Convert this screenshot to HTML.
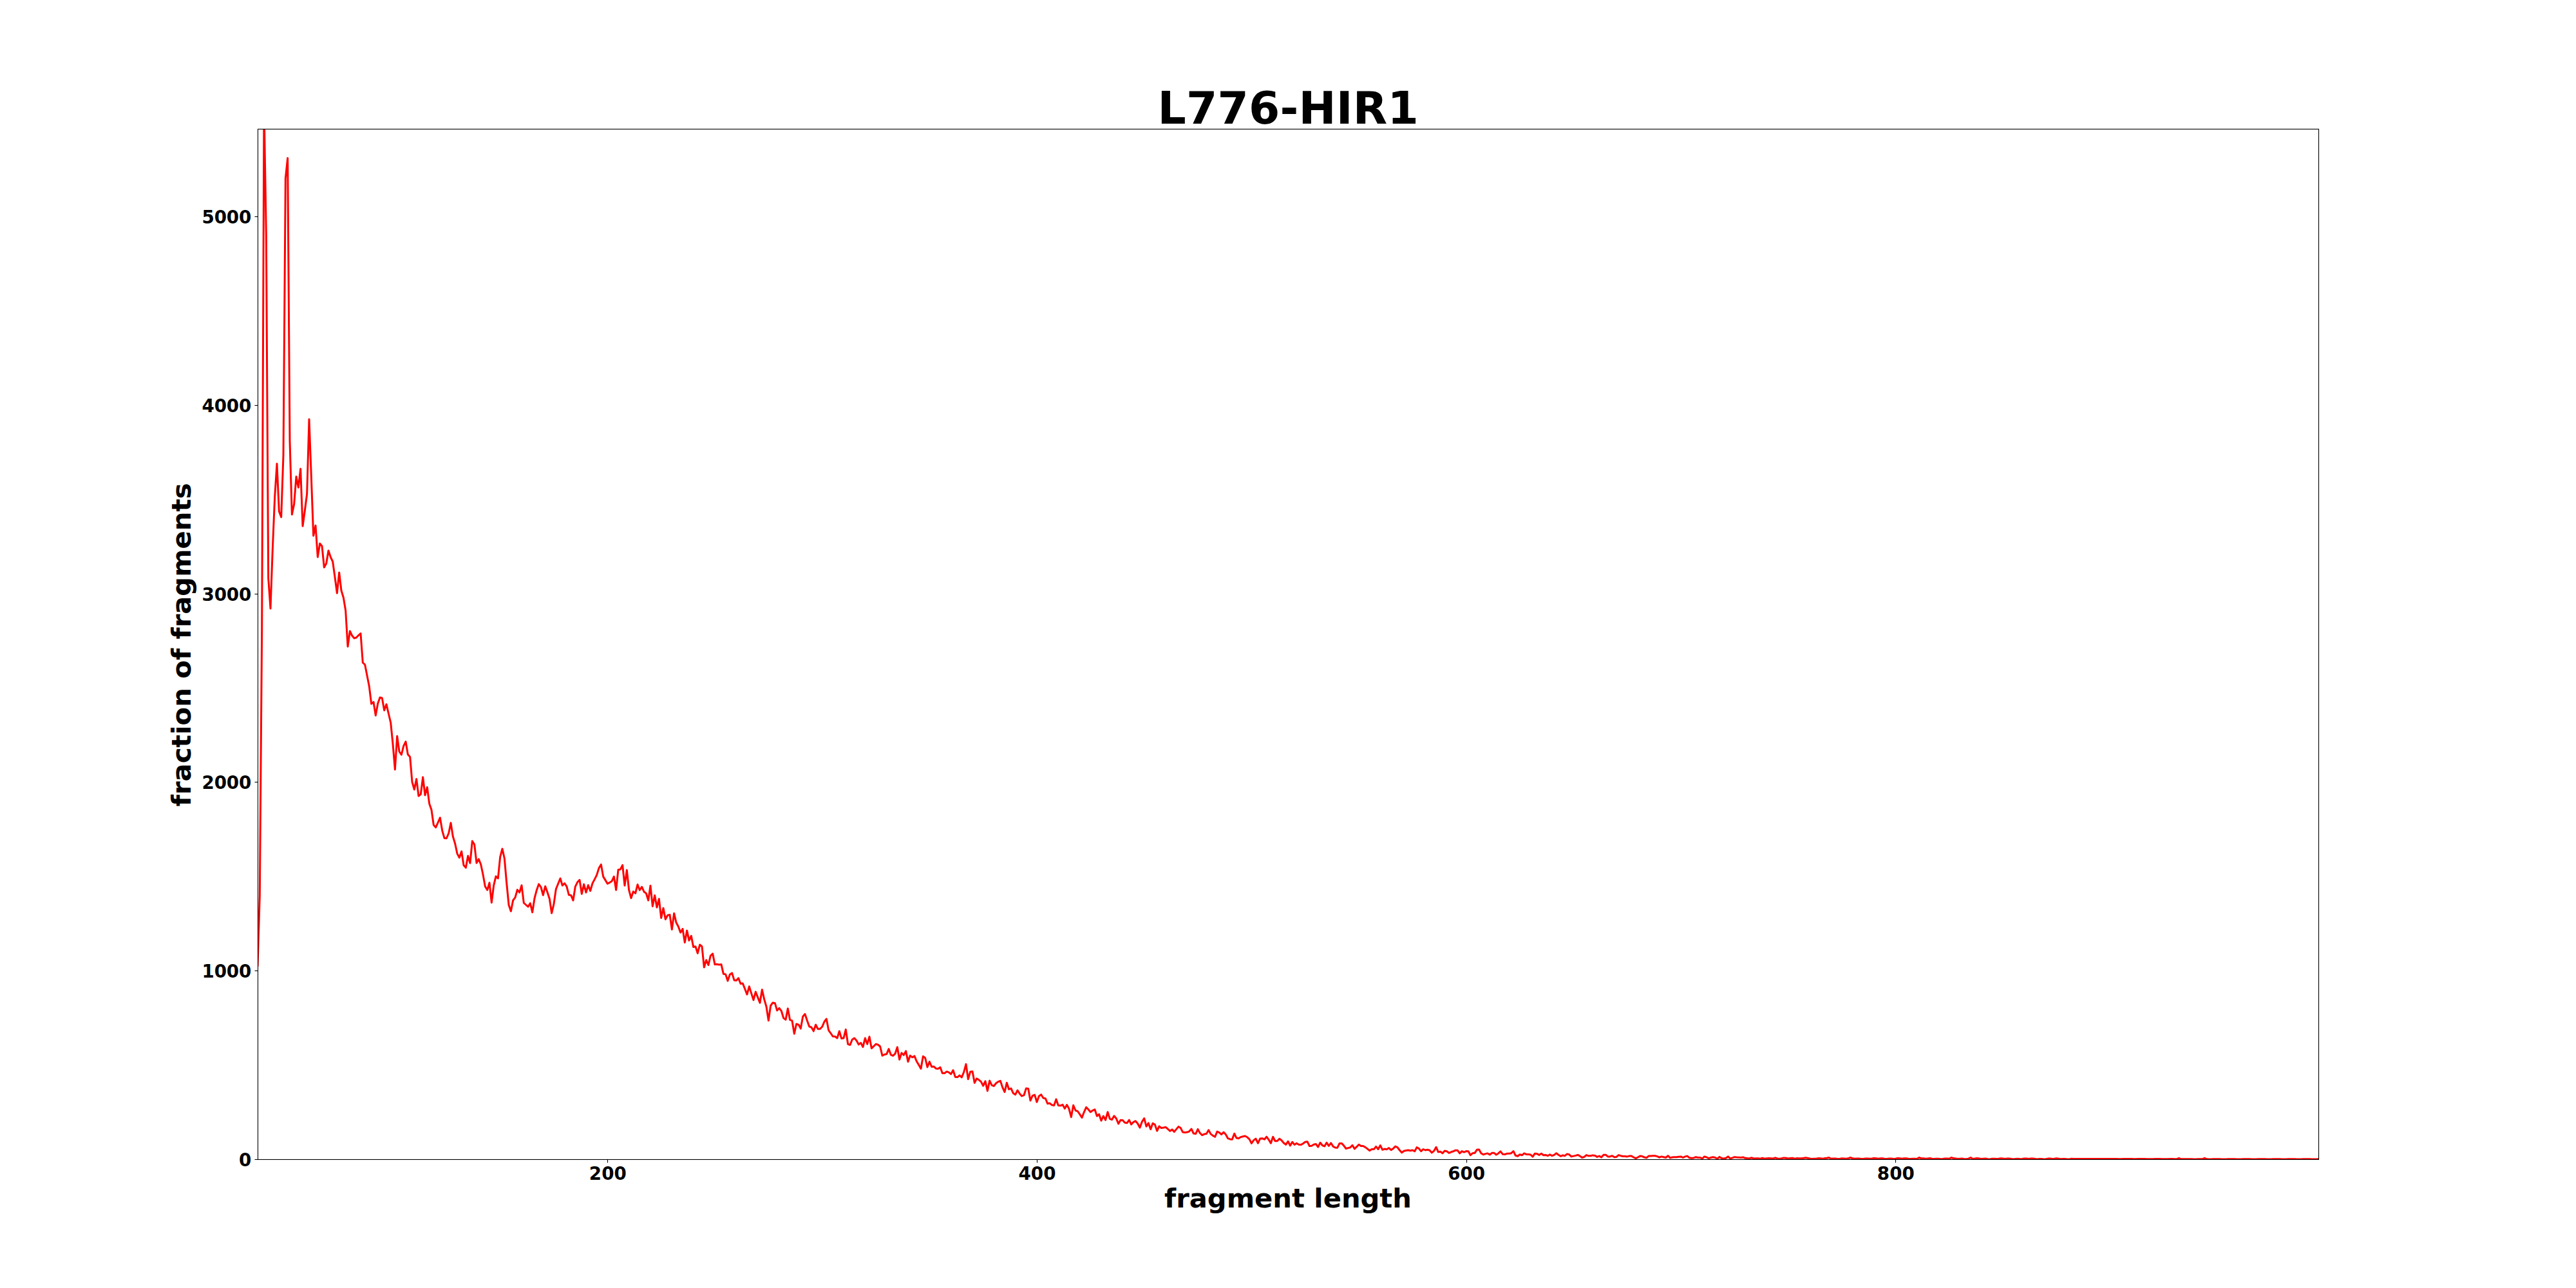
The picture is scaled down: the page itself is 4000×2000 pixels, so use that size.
<!DOCTYPE html>
<html><head><meta charset="utf-8"><title>L776-HIR1</title>
<style>
html,body{margin:0;padding:0;background:#fff;}
body{width:4000px;height:2000px;overflow:hidden;}
svg{display:block;}
text{font-family:"DejaVu Sans","Liberation Sans",sans-serif;font-weight:bold;fill:#000;}
</style></head><body>
<svg width="4000" height="2000" viewBox="0 0 4000 2000">
<rect width="4000" height="2000" fill="#fff"/>
<defs><clipPath id="c"><rect x="400" y="200" width="3200" height="1600"/></clipPath></defs>
<polyline clip-path="url(#c)" fill="none" stroke="#ff0000" stroke-width="3.0" stroke-linejoin="round" stroke-linecap="butt" points="400.00,1501.0 403.33,1391.0 406.67,980.0 410.00,165.0 413.33,365.0 416.67,898.0 420.00,945.0 423.33,852.0 426.67,772.0 430.00,720.0 433.33,794.0 436.67,803.0 440.00,707.0 443.33,277.0 446.67,245.5 450.00,685.0 453.33,799.0 456.67,783.0 460.00,740.0 463.33,757.0 466.67,728.0 470.00,817.0 473.33,793.0 476.67,767.0 480.00,651.0 483.33,740.0 486.67,832.0 490.00,816.0 493.33,865.0 496.67,844.0 500.00,848.0 503.33,881.0 506.67,875.0 510.00,855.0 513.33,865.0 516.67,872.0 520.00,896.0 523.33,921.0 526.67,889.0 530.00,917.0 533.33,928.0 536.67,948.0 540.00,1004.0 543.33,980.0 546.67,987.0 550.00,991.0 553.33,990.0 556.67,986.5 560.00,983.5 563.33,1029.0 566.67,1032.0 570.00,1049.0 573.33,1066.0 576.67,1093.0 580.00,1090.0 583.33,1111.0 586.67,1092.4 590.00,1083.0 593.33,1084.0 596.67,1103.0 600.00,1093.6 603.33,1108.0 606.67,1122.0 610.00,1155.0 613.33,1195.0 616.67,1143.0 620.00,1167.0 623.33,1172.0 626.67,1158.4 630.00,1151.6 633.33,1171.4 636.67,1175.2 640.00,1214.3 643.33,1226.0 646.67,1209.6 650.00,1236.0 653.33,1233.3 656.67,1206.8 660.00,1234.8 663.33,1222.4 666.67,1248.0 670.00,1257.5 673.33,1281.0 676.67,1284.8 680.00,1277.4 683.33,1269.7 686.67,1289.6 690.00,1301.4 693.33,1301.7 696.67,1294.0 700.00,1277.8 703.33,1299.0 706.67,1310.0 710.00,1325.6 713.33,1331.8 716.67,1322.0 720.00,1343.5 723.33,1347.4 726.67,1329.0 730.00,1340.2 733.33,1306.0 736.67,1311.3 740.00,1340.0 743.33,1334.0 746.67,1342.2 750.00,1358.0 753.33,1376.5 756.67,1382.0 760.00,1370.7 763.33,1401.5 766.67,1374.8 770.00,1360.8 773.33,1363.9 776.67,1330.6 780.00,1318.0 783.33,1333.0 786.67,1371.0 790.00,1405.2 793.33,1415.0 796.67,1398.0 800.00,1393.6 803.33,1381.6 806.67,1385.8 810.00,1374.7 813.33,1402.0 816.67,1405.0 820.00,1408.0 823.33,1402.5 826.67,1416.6 830.00,1395.0 833.33,1382.2 836.67,1372.8 840.00,1377.5 843.33,1390.0 846.67,1376.2 850.00,1385.5 853.33,1395.7 856.67,1418.0 860.00,1403.6 863.33,1380.5 866.67,1372.3 870.00,1364.0 873.33,1375.0 876.67,1371.5 880.00,1376.6 883.33,1389.6 886.67,1390.2 890.00,1398.1 893.33,1376.6 896.67,1369.8 900.00,1366.3 903.33,1388.1 906.67,1373.1 910.00,1385.9 913.33,1374.5 916.67,1383.4 920.00,1371.6 923.33,1365.4 926.67,1358.6 930.00,1348.0 933.33,1342.4 936.67,1361.1 940.00,1366.6 943.33,1372.2 946.67,1370.4 950.00,1368.3 953.33,1361.1 956.67,1381.9 960.00,1350.5 963.33,1349.9 966.67,1343.4 970.00,1375.1 973.33,1351.1 976.67,1382.2 980.00,1394.6 983.33,1384.4 986.67,1387.1 990.00,1373.5 993.33,1382.2 996.67,1377.2 1000.00,1384.7 1003.33,1387.1 1006.67,1398.1 1010.00,1375.3 1013.33,1407.3 1016.67,1390.2 1020.00,1408.9 1023.33,1395.8 1026.67,1425.4 1030.00,1410.1 1033.33,1427.5 1036.67,1421.3 1040.00,1420.4 1043.33,1443.3 1046.67,1418.2 1050.00,1432.5 1053.33,1438.7 1056.67,1448.0 1060.00,1442.4 1063.33,1463.5 1066.67,1444.9 1070.00,1460.4 1073.33,1453.2 1076.67,1470.4 1080.00,1469.8 1083.33,1480.2 1086.67,1467.0 1090.00,1469.7 1093.33,1502.0 1096.67,1490.8 1100.00,1498.5 1103.33,1484.0 1106.67,1480.9 1110.00,1497.6 1113.33,1497.3 1116.67,1498.0 1120.00,1497.6 1123.33,1512.2 1126.67,1512.9 1130.00,1523.1 1133.33,1513.2 1136.67,1510.9 1140.00,1521.9 1143.33,1522.5 1146.67,1518.8 1150.00,1527.5 1153.33,1527.1 1156.67,1535.5 1160.00,1544.2 1163.33,1531.8 1166.67,1542.4 1170.00,1552.9 1173.33,1540.1 1176.67,1548.6 1180.00,1557.3 1183.33,1536.8 1186.67,1551.7 1190.00,1563.0 1193.33,1584.7 1196.67,1561.5 1200.00,1557.0 1203.33,1557.7 1206.67,1569.1 1210.00,1565.4 1213.33,1569.8 1216.67,1580.9 1220.00,1583.4 1223.33,1566.0 1226.67,1583.7 1230.00,1584.9 1233.33,1605.2 1236.67,1590.0 1240.00,1591.1 1243.33,1597.1 1246.67,1578.4 1250.00,1574.6 1253.33,1584.7 1256.67,1594.0 1260.00,1595.2 1263.33,1601.1 1266.67,1591.2 1270.00,1597.7 1273.33,1597.7 1276.67,1594.3 1280.00,1586.5 1283.33,1582.2 1286.67,1599.8 1290.00,1604.5 1293.33,1609.3 1296.67,1609.5 1300.00,1612.0 1303.33,1601.2 1306.67,1612.6 1310.00,1612.0 1313.33,1598.6 1316.67,1621.3 1320.00,1622.5 1323.33,1614.2 1326.67,1612.0 1330.00,1615.7 1333.33,1621.9 1336.67,1619.4 1340.00,1625.7 1343.33,1612.0 1346.67,1621.3 1350.00,1609.8 1353.33,1627.8 1356.67,1624.7 1360.00,1621.3 1363.33,1622.2 1366.67,1625.0 1370.00,1639.1 1373.33,1637.5 1376.67,1636.8 1380.00,1628.8 1383.33,1637.8 1386.67,1639.3 1390.00,1636.2 1393.33,1626.0 1396.67,1645.3 1400.00,1635.0 1403.33,1638.3 1406.67,1632.1 1410.00,1648.6 1413.33,1639.1 1416.67,1641.8 1420.00,1639.9 1423.33,1648.0 1426.67,1653.6 1430.00,1659.4 1433.33,1640.3 1436.67,1642.8 1440.00,1657.0 1443.33,1648.6 1446.67,1656.5 1450.00,1656.1 1453.33,1659.2 1456.67,1659.4 1460.00,1657.3 1463.33,1666.6 1466.67,1666.6 1470.00,1663.9 1473.33,1665.2 1476.67,1667.9 1480.00,1661.7 1483.33,1672.2 1486.67,1672.6 1490.00,1669.8 1493.33,1672.9 1496.67,1664.8 1500.00,1652.4 1503.33,1675.7 1506.67,1664.3 1510.00,1663.8 1513.33,1681.4 1516.67,1674.8 1520.00,1676.8 1523.33,1679.6 1526.67,1686.0 1530.00,1678.9 1533.33,1693.9 1536.67,1678.1 1540.00,1685.2 1543.33,1686.4 1546.67,1682.0 1550.00,1679.6 1553.33,1678.3 1556.67,1688.3 1560.00,1695.7 1563.33,1681.4 1566.67,1691.4 1570.00,1690.1 1573.33,1697.6 1576.67,1699.7 1580.00,1693.0 1583.33,1698.2 1586.67,1701.9 1590.00,1700.7 1593.33,1690.1 1596.67,1690.5 1600.00,1709.0 1603.33,1701.3 1606.67,1700.1 1610.00,1711.2 1613.33,1701.9 1616.67,1699.7 1620.00,1705.0 1623.33,1705.7 1626.67,1713.7 1630.00,1713.1 1633.33,1715.8 1636.67,1716.5 1640.00,1706.9 1643.33,1716.6 1646.67,1716.8 1650.00,1715.3 1653.33,1721.4 1656.67,1715.6 1660.00,1721.8 1663.33,1734.6 1666.67,1716.2 1670.00,1724.3 1673.33,1725.5 1676.67,1730.2 1680.00,1735.5 1683.33,1726.8 1686.67,1719.3 1690.00,1722.8 1693.33,1726.8 1696.67,1724.3 1700.00,1722.8 1703.33,1733.0 1706.67,1730.2 1710.00,1740.2 1713.33,1733.0 1716.67,1739.2 1720.00,1726.8 1723.33,1737.3 1726.67,1738.6 1730.00,1732.7 1733.33,1736.7 1736.67,1745.0 1740.00,1739.2 1743.33,1739.6 1746.67,1743.3 1750.00,1743.8 1753.33,1739.2 1756.67,1746.0 1760.00,1742.3 1763.33,1740.7 1766.67,1744.8 1770.00,1751.0 1773.33,1741.7 1776.67,1736.5 1780.00,1749.1 1783.33,1743.9 1786.67,1753.5 1790.00,1744.2 1793.33,1746.3 1796.67,1756.0 1800.00,1748.9 1803.33,1751.6 1806.67,1751.0 1810.00,1750.2 1813.33,1753.0 1816.67,1756.2 1820.00,1753.9 1823.33,1757.4 1826.67,1753.4 1830.00,1749.4 1833.33,1751.6 1836.67,1758.1 1840.00,1758.4 1843.33,1758.1 1846.67,1756.8 1850.00,1753.0 1853.33,1760.0 1856.67,1760.6 1860.00,1753.4 1863.33,1759.4 1866.67,1762.7 1870.00,1761.1 1873.33,1760.5 1876.67,1754.7 1880.00,1760.9 1883.33,1763.4 1886.67,1765.2 1890.00,1757.1 1893.33,1758.6 1896.67,1761.5 1900.00,1758.1 1903.33,1761.5 1906.67,1767.7 1910.00,1768.9 1913.33,1769.3 1916.67,1760.2 1920.00,1767.1 1923.33,1767.7 1926.67,1765.6 1930.00,1764.8 1933.33,1764.0 1936.67,1765.8 1940.00,1768.9 1943.33,1775.4 1946.67,1770.6 1950.00,1768.1 1953.33,1775.2 1956.67,1768.1 1960.00,1767.7 1963.33,1769.2 1966.67,1765.2 1970.00,1769.6 1973.33,1775.2 1976.67,1765.2 1980.00,1771.8 1983.33,1771.7 1986.67,1768.3 1990.00,1770.8 1993.33,1774.8 1996.67,1777.3 2000.00,1772.3 2003.33,1778.9 2006.67,1773.3 2010.00,1777.4 2013.33,1775.2 2016.67,1777.3 2020.00,1777.6 2023.33,1775.8 2026.67,1773.3 2030.00,1772.7 2033.33,1779.5 2036.67,1779.3 2040.00,1777.3 2043.33,1776.4 2046.67,1781.0 2050.00,1774.3 2053.33,1778.5 2056.67,1779.9 2060.00,1774.3 2063.33,1779.3 2066.67,1774.9 2070.00,1780.1 2073.33,1782.0 2076.67,1782.2 2080.00,1775.4 2083.33,1775.4 2086.67,1778.9 2090.00,1783.5 2093.33,1782.6 2096.67,1781.7 2100.00,1778.3 2103.33,1783.9 2106.67,1780.7 2110.00,1777.3 2113.33,1779.5 2116.67,1779.5 2120.00,1781.4 2123.33,1783.9 2126.67,1786.7 2130.00,1784.5 2133.33,1784.5 2136.67,1780.4 2140.00,1784.5 2143.33,1778.5 2146.67,1785.3 2150.00,1784.1 2153.33,1784.7 2156.67,1782.6 2160.00,1785.7 2163.33,1783.5 2166.67,1780.1 2170.00,1781.6 2173.33,1786.0 2176.67,1789.7 2180.00,1787.2 2183.33,1786.6 2186.67,1786.0 2190.00,1786.8 2193.33,1786.0 2196.67,1787.8 2200.00,1781.6 2203.33,1783.5 2206.67,1787.6 2210.00,1784.5 2213.33,1786.0 2216.67,1785.3 2220.00,1786.2 2223.33,1789.9 2226.67,1787.2 2230.00,1781.2 2233.33,1788.8 2236.67,1788.2 2240.00,1790.7 2243.33,1787.0 2246.67,1787.8 2250.00,1790.3 2253.33,1788.8 2256.67,1787.8 2260.00,1786.2 2263.33,1786.3 2266.67,1790.9 2270.00,1787.6 2273.33,1789.1 2276.67,1787.6 2280.00,1787.8 2283.33,1793.7 2286.67,1790.7 2290.00,1790.3 2293.33,1785.3 2296.67,1785.0 2300.00,1790.9 2303.33,1792.8 2306.67,1791.6 2310.00,1790.9 2313.33,1793.0 2316.67,1790.3 2320.00,1790.3 2323.33,1793.0 2326.67,1790.9 2330.00,1787.8 2333.33,1792.2 2336.67,1792.5 2340.00,1791.3 2343.33,1791.3 2346.67,1790.7 2350.00,1787.5 2353.33,1794.3 2356.67,1795.3 2360.00,1792.8 2363.33,1793.8 2366.67,1790.9 2370.00,1792.4 2373.33,1792.4 2376.67,1793.0 2380.00,1796.1 2383.33,1791.2 2386.67,1791.6 2390.00,1793.4 2393.33,1791.3 2396.67,1793.8 2400.00,1793.4 2403.33,1794.7 2406.67,1792.8 2410.00,1794.7 2413.33,1793.4 2416.67,1790.7 2420.00,1793.2 2423.33,1795.3 2426.67,1794.0 2430.00,1794.7 2433.33,1791.9 2436.67,1792.8 2440.00,1795.9 2443.33,1795.1 2446.67,1794.4 2450.00,1793.3 2453.33,1795.1 2456.67,1797.5 2460.00,1796.4 2463.33,1793.6 2466.67,1794.8 2470.00,1794.8 2473.33,1793.9 2476.67,1794.4 2480.00,1796.4 2483.33,1795.1 2486.67,1797.0 2490.00,1793.3 2493.33,1793.3 2496.67,1795.9 2500.00,1795.9 2503.33,1794.7 2506.67,1796.7 2510.00,1796.4 2513.33,1793.6 2516.67,1794.7 2520.00,1795.5 2523.33,1795.6 2526.67,1795.9 2530.00,1795.1 2533.33,1795.1 2536.67,1797.0 2540.00,1798.6 2543.33,1797.0 2546.67,1795.1 2550.00,1795.6 2553.33,1797.0 2556.67,1797.9 2560.00,1795.1 2563.33,1795.1 2566.67,1794.8 2570.00,1794.8 2573.33,1795.6 2576.67,1797.2 2580.00,1795.9 2583.33,1796.7 2586.67,1797.5 2590.00,1794.7 2593.33,1797.9 2596.67,1797.0 2600.00,1796.7 2603.33,1796.7 2606.67,1796.2 2610.00,1795.9 2613.33,1797.5 2616.67,1795.9 2620.00,1795.1 2623.33,1797.8 2626.67,1798.3 2630.00,1797.9 2633.33,1796.7 2636.67,1797.5 2640.00,1797.5 2643.33,1799.0 2646.67,1795.9 2650.00,1797.0 2653.33,1798.6 2656.67,1797.5 2660.00,1796.7 2663.33,1797.5 2666.67,1799.3 2670.00,1796.4 2673.33,1798.6 2676.67,1799.0 2680.00,1798.3 2683.33,1795.9 2686.67,1799.0 2690.00,1797.9 2693.33,1796.7 2696.67,1797.0 2700.00,1797.2 2703.33,1797.5 2706.67,1797.0 2710.00,1798.3 2713.33,1798.6 2716.67,1798.7 2720.00,1797.8 2723.33,1799.0 2726.67,1798.7 2730.00,1798.7 2733.33,1799.3 2736.67,1798.3 2740.00,1799.3 2743.33,1798.7 2746.67,1798.6 2750.00,1798.7 2753.33,1799.0 2756.67,1797.8 2760.00,1799.0 2763.33,1799.3 2766.67,1798.7 2770.00,1797.9 2773.33,1798.3 2776.67,1799.0 2780.00,1798.6 2783.33,1798.3 2786.67,1799.3 2790.00,1798.6 2793.33,1798.7 2796.67,1798.7 2800.00,1798.6 2803.33,1797.8 2806.67,1798.3 2810.00,1799.0 2813.33,1799.5 2816.67,1799.3 2820.00,1799.3 2823.33,1798.6 2826.67,1798.7 2830.00,1799.3 2833.33,1798.6 2836.67,1798.3 2840.00,1797.5 2843.33,1799.3 2846.67,1798.9 2850.00,1799.0 2853.33,1799.5 2856.67,1799.4 2860.00,1798.8 2863.33,1798.9 2866.67,1799.2 2870.00,1798.8 2873.33,1797.5 2876.67,1798.8 2880.00,1799.2 2883.33,1798.9 2886.67,1798.9 2890.00,1799.5 2893.33,1799.6 2896.67,1799.0 2900.00,1799.0 2903.33,1799.3 2906.67,1799.0 2910.00,1798.4 2913.33,1798.8 2916.67,1799.2 2920.00,1798.8 2923.33,1798.8 2926.67,1799.4 2930.00,1799.6 2933.33,1799.1 2936.67,1799.1 2940.00,1799.5 2943.33,1799.2 2946.67,1798.6 2950.00,1798.8 2953.33,1799.2 2956.67,1798.8 2960.00,1798.7 2963.33,1799.3 2966.67,1799.6 2970.00,1799.2 2973.33,1799.2 2976.67,1799.6 2980.00,1797.5 2983.33,1798.8 2986.67,1798.8 2990.00,1799.2 2993.33,1798.9 2996.67,1798.6 3000.00,1799.2 3003.33,1799.6 3006.67,1799.2 3010.00,1799.2 3013.33,1799.7 3016.67,1799.6 3020.00,1799.0 3023.33,1799.0 3026.67,1799.3 3030.00,1797.5 3033.33,1798.6 3036.67,1799.0 3040.00,1799.5 3043.33,1799.2 3046.67,1799.1 3050.00,1799.7 3053.33,1799.8 3056.67,1799.2 3060.00,1797.5 3063.33,1799.5 3066.67,1799.1 3070.00,1798.6 3073.33,1799.0 3076.67,1799.4 3080.00,1799.2 3083.33,1799.1 3086.67,1799.7 3090.00,1799.9 3093.33,1799.3 3096.67,1799.2 3100.00,1799.6 3103.33,1799.3 3106.67,1798.7 3110.00,1798.9 3113.33,1799.4 3116.67,1799.1 3120.00,1799.0 3123.33,1799.6 3126.67,1799.9 3130.00,1799.4 3133.33,1799.3 3136.67,1799.8 3140.00,1799.5 3143.33,1798.9 3146.67,1799.0 3150.00,1799.4 3153.33,1799.1 3156.67,1798.9 3160.00,1799.4 3163.33,1799.9 3166.67,1799.5 3170.00,1799.4 3173.33,1799.9 3176.67,1799.8 3180.00,1799.1 3183.33,1799.1 3186.67,1799.5 3190.00,1799.2 3193.33,1798.8 3196.67,1799.3 3200.00,1799.8 3203.33,1799.5 3206.67,1799.4 3210.00,1799.9 3213.33,1800.0 3216.67,1799.3 3220.00,1799.5 3223.33,1799.5 3226.67,1799.5 3230.00,1799.4 3233.33,1799.4 3236.67,1799.4 3240.00,1799.5 3243.33,1799.6 3246.67,1799.6 3250.00,1799.5 3253.33,1799.4 3256.67,1799.4 3260.00,1799.5 3263.33,1799.5 3266.67,1799.6 3270.00,1799.6 3273.33,1799.6 3276.67,1799.5 3280.00,1799.5 3283.33,1799.5 3286.67,1799.6 3290.00,1799.7 3293.33,1799.7 3296.67,1799.6 3300.00,1799.5 3303.33,1799.5 3306.67,1799.5 3310.00,1799.6 3313.33,1799.7 3316.67,1799.7 3320.00,1799.6 3323.33,1799.6 3326.67,1799.5 3330.00,1799.6 3333.33,1799.7 3336.67,1799.7 3340.00,1799.7 3343.33,1799.7 3346.67,1799.6 3350.00,1799.6 3353.33,1799.6 3356.67,1799.7 3360.00,1799.8 3363.33,1799.8 3366.67,1799.7 3370.00,1799.6 3373.33,1799.6 3376.67,1799.7 3380.00,1799.8 3383.33,1798.5 3386.67,1799.8 3390.00,1799.8 3393.33,1799.7 3396.67,1799.7 3400.00,1799.7 3403.33,1799.8 3406.67,1799.9 3410.00,1799.9 3413.33,1799.8 3416.67,1799.7 3420.00,1799.7 3423.33,1798.5 3426.67,1799.8 3430.00,1799.9 3433.33,1799.9 3436.67,1799.8 3440.00,1799.8 3443.33,1799.7 3446.67,1799.8 3450.00,1799.9 3453.33,1800.0 3456.67,1799.9 3460.00,1799.8 3463.33,1799.8 3466.67,1799.8 3470.00,1799.8 3473.33,1799.9 3476.67,1800.0 3480.00,1799.9 3483.33,1799.8 3486.67,1799.8 3490.00,1799.8 3493.33,1799.8 3496.67,1799.9 3500.00,1800.0 3503.33,1799.9 3506.67,1799.8 3510.00,1799.8 3513.33,1799.8 3516.67,1799.8 3520.00,1799.9 3523.33,1800.0 3526.67,1799.9 3530.00,1799.8 3533.33,1799.8 3536.67,1799.8 3540.00,1799.8 3543.33,1799.9 3546.67,1800.0 3550.00,1799.9 3553.33,1799.8 3556.67,1799.8 3560.00,1799.8 3563.33,1799.8 3566.67,1799.9 3570.00,1800.0 3573.33,1799.9 3576.67,1799.8 3580.00,1799.8 3583.33,1799.8 3586.67,1799.8 3590.00,1799.9 3593.33,1800.0 3596.67,1799.9 3600.00,1799.8"/>
<rect x="400.5" y="200.5" width="3200" height="1600" fill="none" stroke="#000" stroke-width="1.1"/>
<g stroke="#000" stroke-width="1.1">
<line x1="943.5" y1="1800.5" x2="943.5" y2="1805.5"/>
<line x1="1610.5" y1="1800.5" x2="1610.5" y2="1805.5"/>
<line x1="2277.5" y1="1800.5" x2="2277.5" y2="1805.5"/>
<line x1="2943.5" y1="1800.5" x2="2943.5" y2="1805.5"/>
<line x1="395.5" y1="1800.5" x2="400.5" y2="1800.5"/>
<line x1="395.5" y1="1507.5" x2="400.5" y2="1507.5"/>
<line x1="395.5" y1="1214.5" x2="400.5" y2="1214.5"/>
<line x1="395.5" y1="922.5" x2="400.5" y2="922.5"/>
<line x1="395.5" y1="629.5" x2="400.5" y2="629.5"/>
<line x1="395.5" y1="336.5" x2="400.5" y2="336.5"/>
</g>
<g font-size="27.78" text-anchor="middle">
<text x="943.8" y="1831.5">200</text>
<text x="1610.5" y="1831.5">400</text>
<text x="2277.2" y="1831.5">600</text>
<text x="2943.8" y="1831.5">800</text>
</g>
<g font-size="27.78" text-anchor="end" letter-spacing="-0.1">
<text x="390.3" y="1811">0</text>
<text x="390.3" y="1518">1000</text>
<text x="390.3" y="1225">2000</text>
<text x="390.3" y="932.5">3000</text>
<text x="390.3" y="639.5">4000</text>
<text x="390.3" y="346.5">5000</text>
</g>
<text x="2000.3" y="192" font-size="69.44" text-anchor="middle" letter-spacing="0.2">L776-HIR1</text>
<text x="2000" y="1874.6" font-size="41.67" text-anchor="middle">fragment length</text>
<text transform="translate(296.3,1001) rotate(-90)" font-size="41.67" text-anchor="middle">fraction of fragments</text>
</svg>
</body></html>
